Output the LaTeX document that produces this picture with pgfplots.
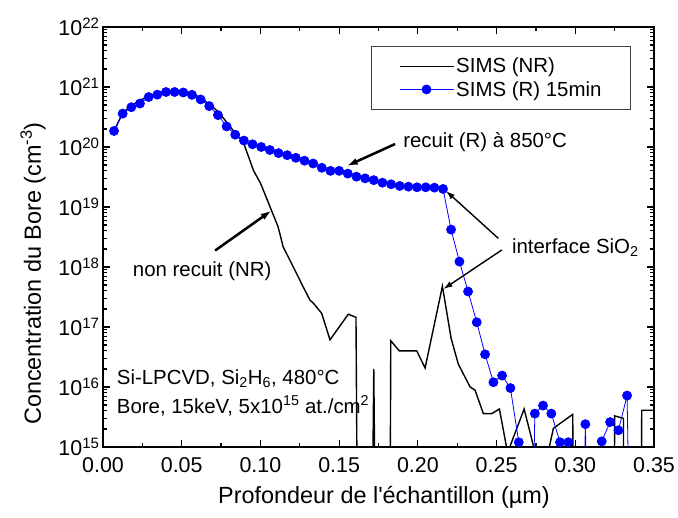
\documentclass[border=0pt]{standalone}
\usepackage{fontspec}
\setmainfont{Liberation Sans}
\usepackage{pgfplots}
\pgfplotsset{compat=1.18}
\usetikzlibrary{arrows.meta}
\newcommand{\tfont}{\fontsize{21.5}{25}\selectfont}
\newcommand{\lfont}{\fontsize{23.5}{28}\selectfont}
\newcommand{\afont}{\fontsize{20.5}{24}\selectfont}

\pgfplotstableread{
x y
0.0070 1.85e20
0.0125 3.7e20
0.0180 4.9e20
0.0235 6.0e20
0.0290 7.0e20
0.0345 7.9e20
0.0400 8.5e20
0.0455 8.7e20
0.0510 8.5e20
0.0565 7.8e20
0.0620 6.6e20
0.0675 5.2e20
0.0730 3.9e20
0.0785 2.6e20
0.0840 1.7e20
0.0890 1.22e20
0.0930 6.3e19
0.0955 4.1e19
0.1000 2.5e19
0.1018 1.92e19
0.1074 8.3e18
0.1112 4.7e18
0.1144 2.18e18
0.1209 1.0e18
0.1271 4.7e17
0.1315 2.8e17
0.1336 2.5e17
0.1389 1.69e17
0.1442 6.1e16
0.1558 1.63e17
0.1607 1.45e17
0.1630 1e8
0.1690 1e8
0.1720 2.0e16
0.1750 1e8
0.1815 1e8
0.1828 5.9e16
0.1882 4.0e16
0.1993 4.0e16
0.2046 2.07e16
0.2156 4.8e17
0.2211 6.5e16
0.2257 2.4e16
0.2332 1.0e16
0.2363 8.9e15
0.2416 3.6e15
0.2470 3.6e15
0.2518 4.3e15
0.2570 8e14
0.2675 4.3e15
0.2789 2.8e14
0.2861 2.05e15
0.2984 3.5e15
0.2992 1e8
0.3100 1e8
0.3240 1e8
0.3250 3.3e15
0.3306 3.0e15
0.3312 1e8
0.3412 1e8
0.3422 4.1e15
0.3500 4.1e15
}\nrdata

\pgfplotstableread{
x y
0.0070 1.85e20
0.0125 3.6e20
0.0180 4.6e20
0.0235 5.3e20
0.0290 6.8e20
0.0345 7.45e20
0.0400 8.25e20
0.0455 8.25e20
0.0510 8.1e20
0.0565 7.4e20
0.0620 6.2e20
0.0675 4.8e20
0.0730 3.4e20
0.0785 2.2e20
0.0840 1.6e20
0.0895 1.28e20
0.0950 1.11e20
0.1005 1.0e20
0.1060 8.9e19
0.1115 7.9e19
0.1170 7.3e19
0.1225 6.6e19
0.1280 5.9e19
0.1335 5.3e19
0.1390 4.5e19
0.1445 4.0e19
0.1500 4.0e19
0.1555 3.6e19
0.1610 3.2e19
0.1665 3.0e19
0.1720 2.8e19
0.1775 2.54e19
0.1830 2.39e19
0.1885 2.24e19
0.1940 2.18e19
0.1995 2.13e19
0.2050 2.13e19
0.2105 2.1e19
0.2160 2.0e19
0.2211 4.2e18
0.2264 1.23e18
0.2319 3.9e17
0.2374 1.2e17
0.2427 3.5e16
0.2480 1.2e16
0.2535 1.55e16
0.2588 9.6e15
0.2641 1.2e15
0.2694 1e8
0.2743 3.6e15
0.2795 4.9e15
0.2848 3.6e15
0.2903 1.2e15
0.2956 1.2e15
0.3011 1e8
0.3064 2.4e15
0.3119 1e8
0.3168 1.24e15
0.3221 2.6e15
0.3274 1.9e15
0.3329 7.2e15
0.3380 1e8
}\rdata

\begin{document}
\begin{tikzpicture}
\useasboundingbox (-103bp,-71bp) rectangle (575bp,447bp);
\begin{axis}[
  scale only axis, width=551bp, height=420bp,
  at={(0,0)}, anchor=south west,
  ymode=log, xmin=0, xmax=0.35, ymin=1e15, ymax=1e22,
  axis line style={line width=1.8bp},
  tick style={line width=1.2bp, black},
  major tick length=7bp, minor tick length=4bp,
  tick align=inside, tick pos=both,
  xtick={0,0.05,0.1,0.15,0.2,0.25,0.3,0.35},
  xticklabels={0.00,0.05,0.10,0.15,0.20,0.25,0.30,0.35},
  minor xtick={0.025,0.075,0.125,0.175,0.225,0.275,0.325},
  ytick={1e15,1e16,1e17,1e18,1e19,1e20,1e21,1e22},
  yticklabels={10\textsuperscript{15},10\textsuperscript{16},10\textsuperscript{17},10\textsuperscript{18},10\textsuperscript{19},10\textsuperscript{20},10\textsuperscript{21},10\textsuperscript{22}},
  minor ytick={2e15,3e15,4e15,5e15,6e15,7e15,8e15,9e15,
               2e16,3e16,4e16,5e16,6e16,7e16,8e16,9e16,
               2e17,3e17,4e17,5e17,6e17,7e17,8e17,9e17,
               2e18,3e18,4e18,5e18,6e18,7e18,8e18,9e18,
               2e19,3e19,4e19,5e19,6e19,7e19,8e19,9e19,
               2e20,3e20,4e20,5e20,6e20,7e20,8e20,9e20,
               2e21,3e21,4e21,5e21,6e21,7e21,8e21,9e21},
  tick label style={font=\tfont},
  xticklabel style={yshift=-7bp},
  xlabel={Profondeur de l\textquotesingle échantillon (µm)},
  ylabel={Concentration du Bore (cm\textsuperscript{-3})},
  label style={font=\lfont},
  xlabel style={at={(axis description cs:0.51,-0.12)}, anchor=center},
  ylabel style={at={(axis description cs:-0.127,0.413)}, anchor=center},
  legend style={at={(axis description cs:0.958,0.9555)}, anchor=north east,
    draw=black!75, line width=0.8bp, fill=white, font=\afont,
    inner xsep=27bp, inner ysep=10bp, row sep=3bp},
  legend cell align=left,
  legend image code/.code={\draw[mark repeat=2,mark phase=2,#1] plot coordinates {(0bp,0bp) (27bp,0bp) (54bp,0bp)};},
]
\addplot[black, line width=1.4bp, no markers] table[x=x,y=y] {\nrdata};
\addlegendentry{SIMS (NR)}
\addplot[blue, line width=0.8bp, mark=*, mark size=4.5bp, mark options={fill=blue, draw=blue}] table[x=x,y=y] {\rdata};
\addlegendentry{SIMS (R) 15min}

\draw[line width=2.5bp, -{Latex[length=11bp,width=7bp]}] (axis cs:0.1855,1.12e20) -- (axis cs:0.1548,4.82e19);
\node[anchor=base west, font=\afont, inner sep=0pt] at (axis cs:0.1906,9.7e19) {recuit (R) à 850°C};

\draw[line width=2.5bp, -{Latex[length=11bp,width=7bp]}] (axis cs:0.0712,1.88e18) -- (axis cs:0.1071,8.74e18);
\node[anchor=base west, font=\afont, inner sep=0pt] at (axis cs:0.0189,6.9e17) {non recuit (NR)};

\draw[line width=1.4bp, -{Latex[length=9bp,width=6bp]}] (axis cs:0.2511,3.0e18) -- (axis cs:0.2179,1.85e19);
\draw[line width=1.4bp, -{Latex[length=9bp,width=6bp]}] (axis cs:0.2533,1.92e18) -- (axis cs:0.2163,4.3e17);
\node[anchor=base west, font=\afont, inner sep=0pt] at (axis cs:0.2597,1.69e18) {interface SiO\textsubscript{2}};

\node[anchor=base west, font=\afont, inner sep=0pt] at (axis cs:0.0087,1.12e16) {Si-LPCVD, Si\textsubscript{2}H\textsubscript{6}, 480°C};
\node[anchor=base west, font=\afont, inner sep=0pt] at (axis cs:0.0087,3.65e15) {Bore, 15keV, 5x10\textsuperscript{15} at./cm\textsuperscript{2}};
\end{axis}
\end{tikzpicture}
\end{document}
